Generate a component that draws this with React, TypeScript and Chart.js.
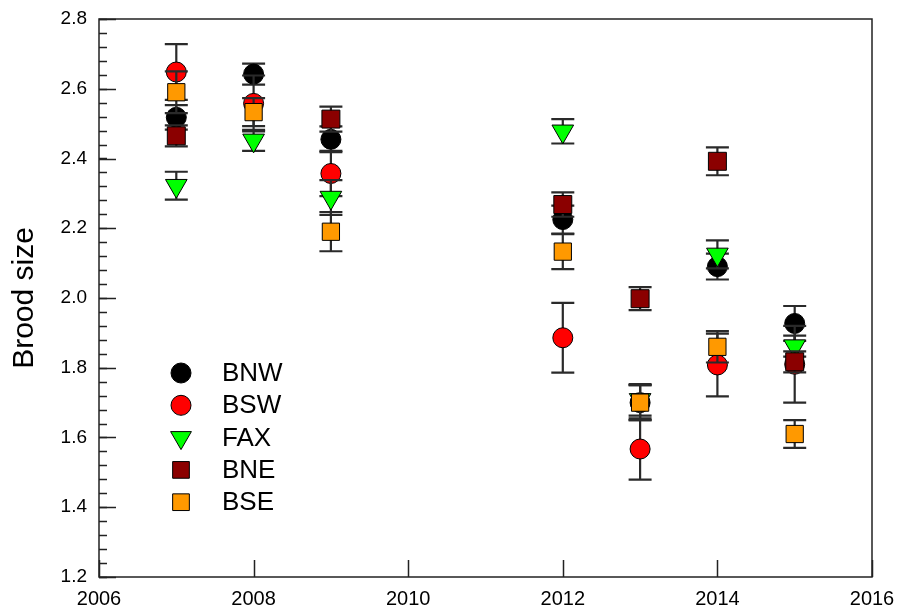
import React, { useEffect, useRef } from "react";
import { Chart, registerables } from "chart.js";

Chart.register(...registerables);

// ---- data ----
const years = [2007, 2008, 2009, 2012, 2013, 2014, 2015];
const seriesNames = ["BNW", "BSW", "FAX", "BNE", "BSE"];

const bnwValues = [2.518, 2.642, 2.455, 2.225, 1.7, 2.09, 1.927];
const bnwErrors = [0.035, 0.03, 0.037, 0.04, 0.05, 0.037, 0.05];

const bswValues = [2.648, 2.558, 2.357, 1.886, 1.567, 1.808, 1.81];
const bswErrors = [0.08, 0.08, 0.065, 0.1, 0.088, 0.09, 0.11];

const faxValues = [2.322, 2.452, 2.288, 2.478, 1.708, 2.125, 1.862];
const faxErrors = [0.04, 0.03, 0.05, 0.035, 0.045, 0.04, 0.03];

const bneValues = [2.465, null, 2.513, 2.268, 1.998, 2.392, 1.817];
const bneErrors = [0.03, null, 0.036, 0.035, 0.033, 0.04, 0.03];

const bseValues = [2.59, 2.533, 2.19, 2.133, 1.7, 1.86, 1.61];
const bseErrors = [0.06, 0.04, 0.056, 0.05, 0.05, 0.045, 0.04];

const yTickValues = [1.2, 1.4, 1.6, 1.8, 2.0, 2.2, 2.4, 2.6, 2.8];
const xTickValues = [2006, 2008, 2010, 2012, 2014, 2016];
const yAxisTitle = "Brood size";

// ---- styles ----
const FONT = "'Liberation Sans', Arial, sans-serif";
const seriesStyles = [
  { color: "#000000", style: "circle", radius: 10, rotation: 0 },
  { color: "#ff0000", style: "circle", radius: 10, rotation: 0 },
  { color: "#00ff00", style: "triangle", radius: 12.5, rotation: 180 },
  { color: "#8b0000", style: "rect", radius: 12.7, rotation: 0 },
  { color: "#ff9900", style: "rect", radius: 12.2, rotation: 0 },
];
const drawOrder = [5, 4, 3, 2, 1];

function buildPoints(values: (number | null)[]) {
  const pts: { x: number; y: number }[] = [];
  values.forEach((v, i) => {
    if (v != null) pts.push({ x: years[i], y: v });
  });
  return pts;
}
function buildErrors(values: (number | null)[], errs: (number | null)[]) {
  const out: number[] = [];
  values.forEach((v, i) => {
    if (v != null) out.push(errs[i] as number);
  });
  return out;
}

const allValues = [bnwValues, bswValues, faxValues, bneValues, bseValues];
const allErrors = [bnwErrors, bswErrors, faxErrors, bneErrors, bseErrors];

function drawMarker(ctx: CanvasRenderingContext2D, style: string, x: number, y: number, r: number, fill: string) {
  ctx.save();
  ctx.fillStyle = fill;
  ctx.strokeStyle = "#000";
  ctx.lineWidth = 1;
  ctx.beginPath();
  if (style === "circle") {
    ctx.arc(x, y, r, 0, Math.PI * 2);
  } else if (style === "rect") {
    const s = r * Math.SQRT1_2;
    ctx.rect(x - s, y - s, 2 * s, 2 * s);
  } else {
    for (let k = 0; k < 3; k++) {
      const a = Math.PI + (k * 2 * Math.PI) / 3;
      const px = x + Math.sin(a) * r;
      const py = y - Math.cos(a) * r;
      if (k === 0) ctx.moveTo(px, py);
      else ctx.lineTo(px, py);
    }
    ctx.closePath();
  }
  ctx.fill();
  ctx.stroke();
  ctx.restore();
}

const framePlugin = {
  id: "frame",
  beforeDatasetsDraw(chart: any) {
    const { ctx, chartArea } = chart;
    const { left, right, top, bottom } = chartArea;
    const ys = chart.scales.y;
    const xs = chart.scales.x;
    ctx.save();
    ctx.strokeStyle = "#222";
    ctx.lineWidth = 1.5;
    ctx.strokeRect(left, top, right - left, bottom - top);
    ctx.beginPath();
    for (let v = 1.2; v <= 2.8 + 1e-9; v += 0.04) {
      const py = Math.round(ys.getPixelForValue(v)) + 0.5;
      ctx.moveTo(left, py);
      ctx.lineTo(left + 8, py);
    }
    ctx.stroke();
    ctx.beginPath();
    yTickValues.forEach((v) => {
      const py = Math.round(ys.getPixelForValue(v)) + 0.5;
      ctx.moveTo(left, py);
      ctx.lineTo(left + 17, py);
    });
    xTickValues.forEach((v) => {
      const px = Math.round(xs.getPixelForValue(v)) + 0.5;
      ctx.moveTo(px, bottom);
      ctx.lineTo(px, bottom - 17);
    });
    ctx.stroke();
    ctx.restore();
  },
};

const errorBarPlugin = {
  id: "errorBars",
  beforeDatasetDraw(chart: any, args: any) {
    const ds = chart.data.datasets[args.index];
    const errs: number[] = ds.errors;
    if (!errs) return;
    const { ctx } = chart;
    const xs = chart.scales.x;
    const ys = chart.scales.y;
    ctx.save();
    ctx.strokeStyle = "#2a2a2a";
    ctx.lineWidth = 2.2;
    ds.data.forEach((p: any, i: number) => {
      const e = errs[i];
      const px = xs.getPixelForValue(p.x);
      const t = ys.getPixelForValue(p.y + e);
      const b = ys.getPixelForValue(p.y - e);
      ctx.beginPath();
      ctx.moveTo(px, t);
      ctx.lineTo(px, b);
      ctx.moveTo(px - 11.5, t);
      ctx.lineTo(px + 11.5, t);
      ctx.moveTo(px - 11.5, b);
      ctx.lineTo(px + 11.5, b);
      ctx.stroke();
    });
    ctx.restore();
  },
};

const legendPlugin = {
  id: "innerLegend",
  afterDraw(chart: any) {
    const { ctx } = chart;
    ctx.save();
    ctx.font = `26px ${FONT}`;
    ctx.fillStyle = "#000";
    ctx.textBaseline = "middle";
    seriesNames.forEach((name, i) => {
      const y = 373 + i * 32.3;
      const st = seriesStyles[i];
      drawMarker(ctx, st.style, 181, y, st.style === "circle" ? 10 : st.style === "rect" ? 11.8 : 12, st.color);
      ctx.fillText(name, 222, y + 1);
    });
    ctx.restore();
  },
};

export default function App() {
  const canvasRef = useRef<HTMLCanvasElement | null>(null);

  useEffect(() => {
    document.body.style.margin = "0";
    const canvas = canvasRef.current;
    if (!canvas) return;
    const datasets = seriesNames.map((name, i) => {
      const st = seriesStyles[i];
      return {
        label: name,
        data: buildPoints(allValues[i]),
        errors: buildErrors(allValues[i], allErrors[i]),
        order: drawOrder[i],
        showLine: false,
        pointStyle: st.style,
        pointRotation: st.rotation,
        pointRadius: st.radius,
        pointHoverRadius: st.radius,
        pointBackgroundColor: st.color,
        pointBorderColor: "#000",
        pointBorderWidth: 1,
        backgroundColor: st.color,
        borderColor: "#000",
      } as any;
    });

    const chart = new Chart(canvas, {
      type: "scatter",
      data: { datasets },
      options: {
        responsive: false,
        animation: false,
        devicePixelRatio: 1,
        layout: { padding: { top: 19, right: 26, left: 0, bottom: 0 } },
        plugins: {
          legend: { display: false },
          tooltip: { enabled: false },
        },
        scales: {
          x: {
            type: "linear",
            min: 2006,
            max: 2016,
            afterBuildTicks: (scale: any) => {
              scale.ticks = xTickValues.map((v) => ({ value: v }));
            },
            afterFit: (scale: any) => {
              scale.height = 34;
              scale.paddingLeft = 0;
              scale.paddingRight = 0;
            },
            grid: { display: false, drawTicks: false },
            border: { display: false },
            ticks: {
              padding: 10,
              color: "#000",
              font: { family: FONT, size: 20 },
              maxRotation: 0,
              autoSkip: false,
              callback: (v: any) => String(v),
            },
          },
          y: {
            type: "linear",
            min: 1.2,
            max: 2.8,
            afterBuildTicks: (scale: any) => {
              scale.ticks = yTickValues.map((v) => ({ value: v }));
            },
            afterFit: (scale: any) => {
              scale.width = 99;
              scale.paddingTop = 0;
              scale.paddingBottom = 0;
            },
            grid: { display: false, drawTicks: false },
            border: { display: false },
            ticks: {
              padding: 12,
              color: "#000",
              font: { family: FONT, size: 19 },
              autoSkip: false,
              callback: (v: any) => Number(v).toFixed(1),
            },
            title: {
              display: true,
              text: yAxisTitle,
              color: "#000",
              font: { family: FONT, size: 30 },
              padding: { top: 7, bottom: 0 },
            },
          },
        },
      } as any,
      plugins: [framePlugin, errorBarPlugin, legendPlugin],
    });
    return () => chart.destroy();
  }, []);

  return <canvas ref={canvasRef} width={898} height={611} style={{ display: "block" }} />;
}
